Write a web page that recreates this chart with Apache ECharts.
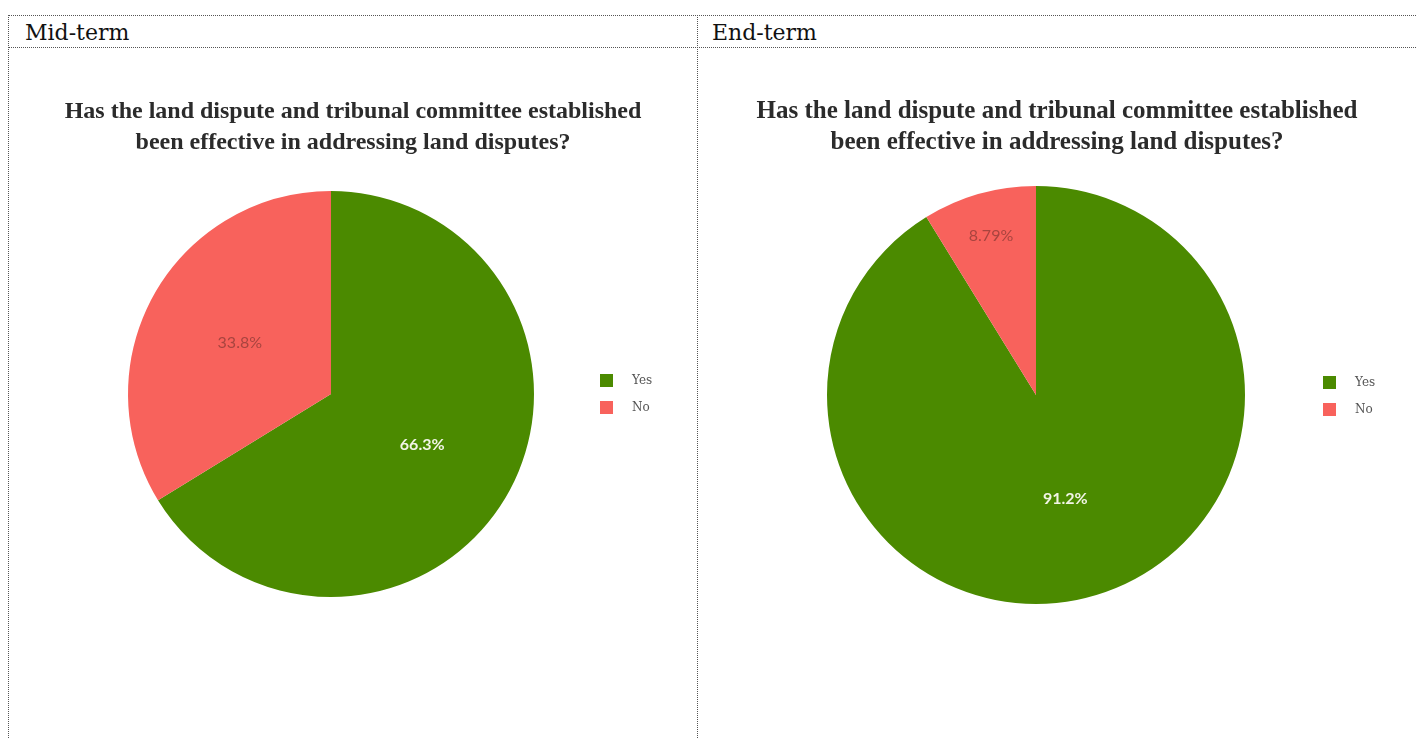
<!DOCTYPE html>
<html>
<head>
<meta charset="utf-8">
<script src="https://cdn.jsdelivr.net/npm/echarts@6/dist/echarts.min.js"></script>
<style>
  html, body { margin:0; padding:0; background:#fff; width:1416px; height:738px; overflow:hidden; }
  .line { position:absolute; }
  .h { border-top:1px dotted #555; height:0; }
  .v { border-left:1px dotted #555; width:0; }
  .hdr { position:absolute; font-family:"DejaVu Serif", serif; font-size:22px; color:#111; line-height:1; }
  .chart { position:absolute; }
</style>
</head>
<body>
<div class="line h" style="left:8px; top:15px; width:1408px;"></div>
<div class="line h" style="left:8px; top:47px; width:1408px;"></div>
<div class="line v" style="left:8px; top:15px; height:723px;"></div>
<div class="line v" style="left:697px; top:15px; height:723px;"></div>
<div class="hdr" style="left:25px; top:22px;">Mid-term</div>
<div class="hdr" style="left:712px; top:22px;">End-term</div>
<div id="c1" class="chart" style="left:9px; top:48px; width:688px; height:690px;"></div>
<div id="c2" class="chart" style="left:698px; top:48px; width:718px; height:690px;"></div>
<script>
const categories = ["Yes", "No"];
const midTermValues = [66.3, 33.8];
const endTermValues = [91.2, 8.79];
const titleText = "Has the land dispute and tribunal committee established\nbeen effective in addressing land disputes?";

const colors = ["#4b8a00", "#f8625c"];
const labelColors = ["#f2f5e6", "#a8443f"];
const labelWeights = ["bold", "normal"];

function makeData(values, showMask) {
  return categories.map((c, i) => ({
    name: c,
    value: values[i],
    label: {
      show: showMask ? showMask[i] : true,
      color: labelColors[i],
      fontWeight: labelWeights[i]
    }
  }));
}

function makeOption(values, center, radius, titleSize, legendPos, outerMask) {
  const labelBase = {
    position: 'inside',
    fontFamily: 'Lato, "Open Sans", sans-serif',
    fontSize: 16,
    formatter: p => p.value + '%'
  };
  const series = [{
    type: 'pie',
    center: center,
    radius: radius,
    startAngle: 90,
    clockwise: true,
    silent: true,
    animation: false,
    emphasis: { disabled: true },
    label: labelBase,
    labelLine: { show: false },
    itemStyle: { borderWidth: 0 },
    data: makeData(values, outerMask ? outerMask.map(v => !v) : null)
  }];
  if (outerMask) {
    series.push({
      type: 'pie',
      center: center,
      radius: [radius * 0.55, radius],
      startAngle: 90,
      clockwise: true,
      silent: true,
      animation: false,
      emphasis: { disabled: true },
      label: labelBase,
      labelLine: { show: false },
      itemStyle: { color: 'rgba(0,0,0,0)', borderWidth: 0 },
      data: makeData(values, outerMask)
    });
  }
  return {
    color: colors,
    animation: false,
    title: {
      text: titleText,
      left: 'center',
      top: 43,
      textStyle: {
        fontFamily: '"Liberation Serif", serif',
        fontWeight: 'bold',
        fontSize: titleSize,
        lineHeight: 31,
        color: '#2b2b2b'
      }
    },
    legend: {
      data: categories,
      orient: 'vertical',
      left: legendPos[0],
      top: legendPos[1],
      itemWidth: 13,
      itemHeight: 13,
      itemGap: 14,
      icon: 'rect',
      selectedMode: false,
      textStyle: {
        fontFamily: '"DejaVu Serif", serif',
        fontSize: 12,
        color: '#555',
        padding: [0, 0, 0, 14]
      }
    },
    series: series
  };
}

const c1 = echarts.init(document.getElementById('c1'));
c1.setOption(makeOption(midTermValues, [322, 346], 203, 24, [586, 321], null));
const c2 = echarts.init(document.getElementById('c2'));
c2.setOption(makeOption(endTermValues, [338, 347], 209, 25, [620, 323], [false, true]));
</script>
</body>
</html>
